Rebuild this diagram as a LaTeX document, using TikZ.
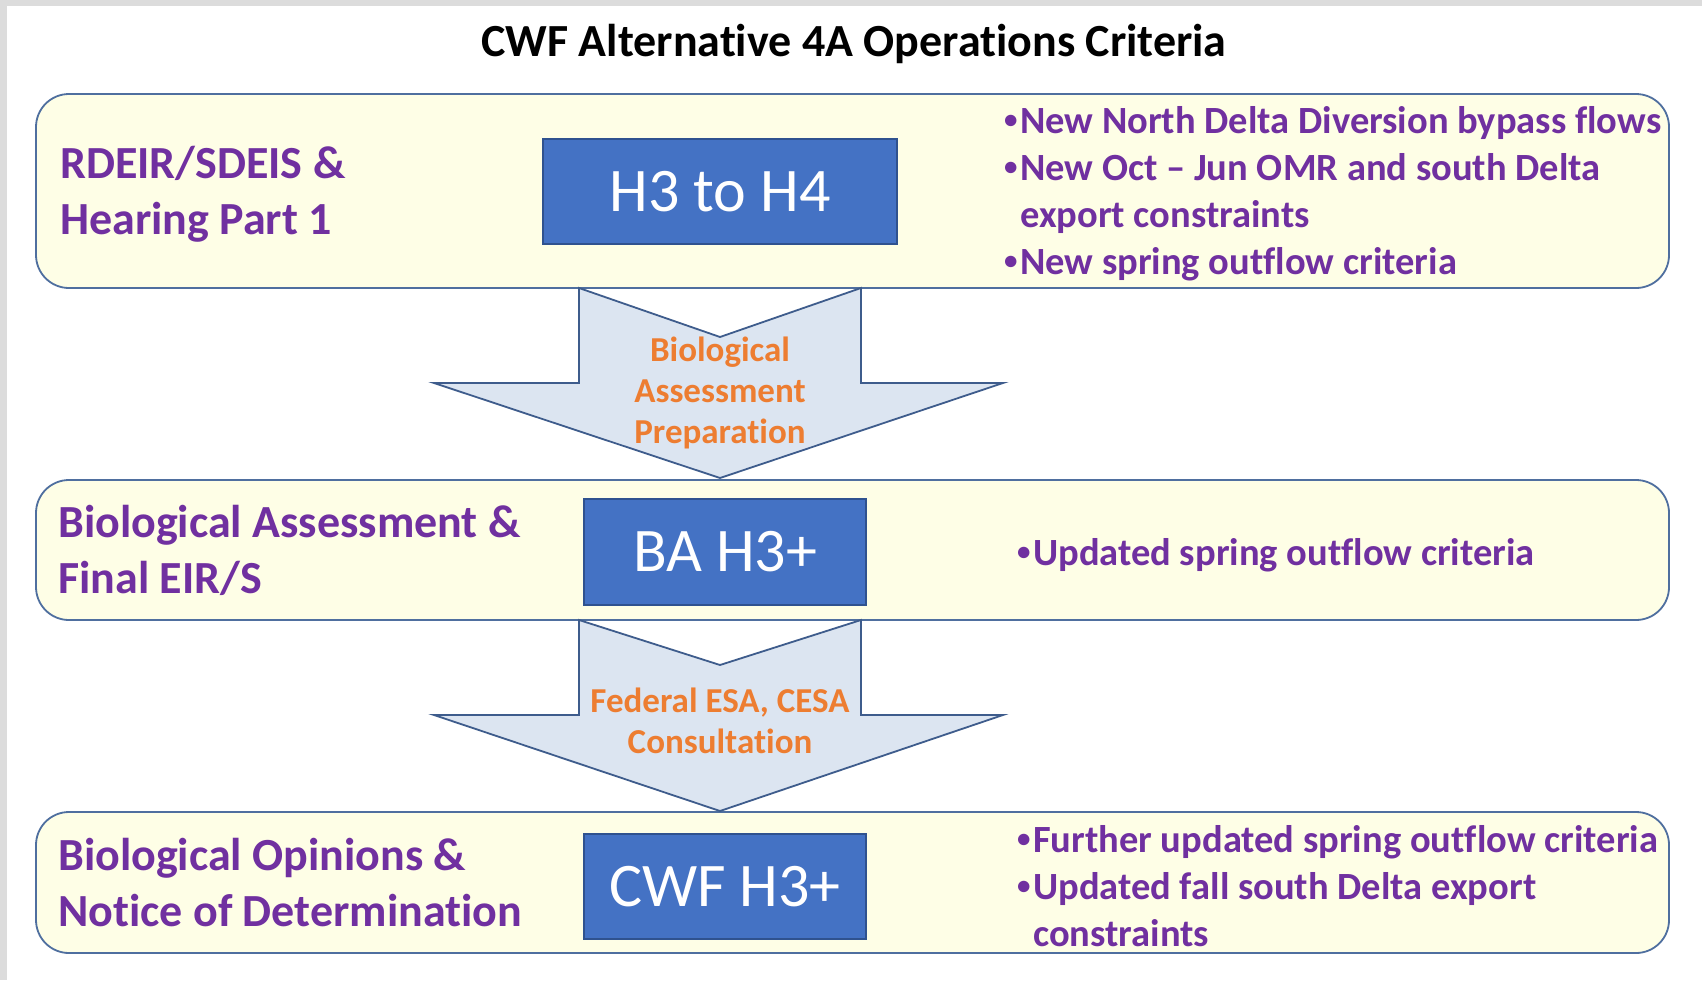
\documentclass[tikz,border=0pt]{standalone}
\usepackage{graphicx}
\usepackage{fontspec}
\setmainfont{Carlito}[Ligatures=NoCommon]
\definecolor{framegray}{HTML}{DCDCDC}
\definecolor{stagefill}{HTML}{FEFEE6}
\definecolor{stageline}{HTML}{4F6F9F}
\definecolor{altfill}{HTML}{4472C4}
\definecolor{altline}{HTML}{2F528F}
\definecolor{arrowfill}{HTML}{DCE5F1}
\definecolor{arrowline}{HTML}{3E5C8C}
\definecolor{critpurple}{HTML}{7030A0}
\definecolor{steporange}{HTML}{ED7D31}
\newcommand{\bul}{\makebox[16pt][l]{\raisebox{0.12em}{\scalebox{0.7}{\textbullet}}}}
\newcommand{\cont}{\hspace*{16pt}}
\begin{document}
\begin{tikzpicture}[x=1pt,y=-1pt,
    stage/.style={draw=stageline, line width=1.8pt, fill=stagefill, rounded corners=33pt, minimum width=1633pt},
    altbox/.style={draw=altline, line width=1.8pt, fill=altfill, text=white, font=\fontsize{62}{74}\selectfont},
    steplabel/.style={text=critpurple, font=\bfseries\fontsize{46}{56}\selectfont, align=left, anchor=base west, inner sep=0pt},
    notes/.style={text=critpurple, font=\bfseries\fontsize{38.5}{47}\selectfont, align=left, anchor=base west, inner sep=0pt},
    flowarrow/.style={draw=arrowline, line width=1.8pt, fill=arrowfill, line join=miter},
    flowtext/.style={text=steporange, font=\bfseries\fontsize{35}{41}\selectfont, align=center, anchor=base, inner sep=0pt}]
  % frame and canvas
  \fill[framegray] (0,0) rectangle (1702,980);
  \fill[white] (7,6) rectangle (1702,980);
  \useasboundingbox (0,0) rectangle (1702,980);
  \node[anchor=base, inner sep=0pt, font=\bfseries\fontsize{46}{54}\selectfont] (title) at (854,56) {CWF Alternative 4A Operations Criteria};
  % stages
  \node[stage, minimum height=194pt] (s1) at (852.5,191) {};
  \node[stage, minimum height=140pt] (s2) at (852.5,550) {};
  \node[stage, minimum height=141pt] (s3) at (852.5,882.5) {};
  % arrows between stages
  \draw[flowarrow] (579,288) -- (720,337) -- (861,288) -- (861,383) -- (1003,383) -- (720,478) -- (434,383) -- (579,383) -- cycle;
  \draw[flowarrow] (579,620) -- (720,665) -- (861,620) -- (861,715) -- (1003,715) -- (720,811) -- (434,715) -- (579,715) -- cycle;
  % base anchor sits on the last line
  \node[flowtext] (prep) at (720,443) {Biological\\Assessment\\Preparation};
  \node[flowtext] (consult) at (720,753) {Federal ESA, CESA\\Consultation};
  % alternative boxes
  \node[altbox, minimum width=354pt, minimum height=105pt] (h34) at (720,191.5) {H3 to H4};
  \node[altbox, minimum width=282pt, minimum height=106pt] (bah3) at (725,552) {BA H3+};
  \node[altbox, minimum width=282pt, minimum height=105pt] (cwfh3) at (725,886.5) {CWF H3+};
  % stage names
  \node[steplabel] (l1) at (60,234) {RDEIR/SDEIS \&\\Hearing Part 1};
  \node[steplabel] (l2) at (58,593) {Biological Assessment \&\\Final EIR/S};
  \node[steplabel] (l3) at (58,926) {Biological Opinions \&\\Notice of Determination};
  % criteria
  \node[notes] (n1) at (1004,274) {\bul New North Delta Diversion bypass flows\\\bul New Oct – Jun OMR and south Delta\\\cont export constraints\\\bul New spring outflow criteria};
  \node[notes] (n2) at (1017,565) {\bul Updated spring outflow criteria};
  \node[notes] (n3) at (1017,946) {\bul Further updated spring outflow criteria\\\bul Updated fall south Delta export\\\cont constraints};
\end{tikzpicture}
\end{document}
